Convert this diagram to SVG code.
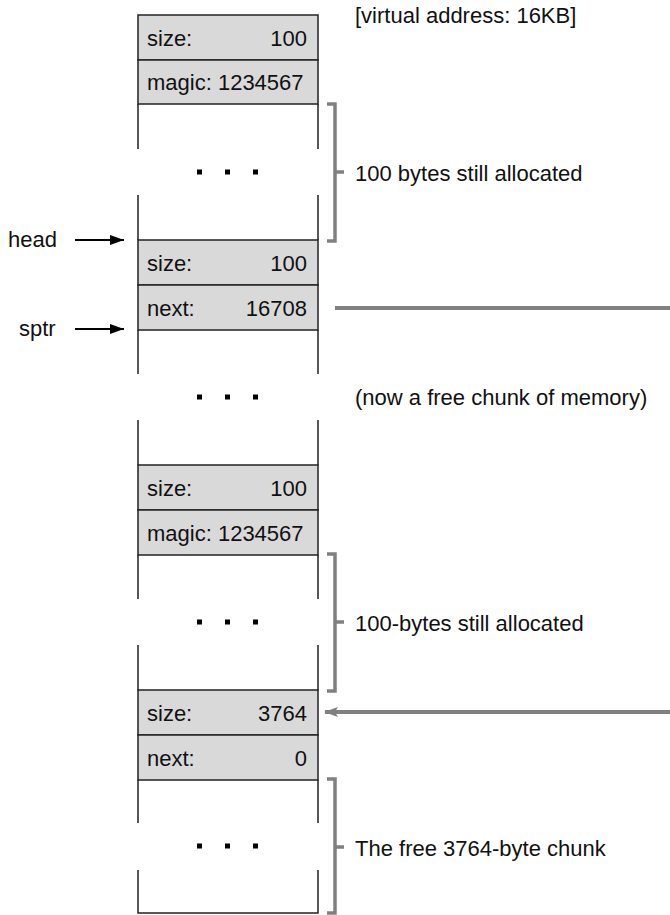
<svg xmlns="http://www.w3.org/2000/svg" width="670" height="915" viewBox="0 0 670 915">
<defs>
<style>
text{font-family:"Liberation Sans",Arial,Helvetica,sans-serif;font-size:22px;fill:#111}
.cell{fill:#d9d9d9;stroke:#222;stroke-width:1.5}
.side{stroke:#222;stroke-width:1.5;fill:none}
.br{stroke:#808080;stroke-width:3.5;fill:none}
.dot{fill:#000}
.r{text-anchor:end}
.ptr{stroke:#000;stroke-width:2;fill:none}
.gl{stroke:#808080;stroke-width:4;fill:none}
</style>
<marker id="ah" viewBox="0 0 14 10" refX="14" refY="5" markerWidth="14" markerHeight="10" markerUnits="userSpaceOnUse" orient="auto">
<path d="M0,0 L14,5 L0,10 z" fill="#000"/>
</marker>
<marker id="gah" viewBox="0 0 14 10" refX="13" refY="5" markerWidth="14" markerHeight="10" markerUnits="userSpaceOnUse" orient="auto">
<path d="M0,0 L14,5 L0,10 L3,5 z" fill="#808080"/>
</marker>
</defs>

<g id="header">
<text x="355" y="23">[virtual address: 16KB]</text>
</g>

<g id="alloc1">
<rect class="cell" x="138" y="15" width="180" height="45"/>
<text x="147" y="46">size:</text><text class="r" x="307" y="46">100</text>
<rect class="cell" x="138" y="60" width="180" height="44"/>
<text x="147" y="90">magic: 1234567</text>
<path class="side" d="M138,104 V149 M318,104 V149 M138,195 V240 M318,195 V240"/>
<rect class="dot" x="197" y="169.5" width="5" height="5"/>
<rect class="dot" x="225" y="169.5" width="5" height="5"/>
<rect class="dot" x="253" y="169.5" width="5" height="5"/>
</g>

<g id="free1">
<rect class="cell" x="138" y="240" width="180" height="45"/>
<text x="147" y="271">size:</text><text class="r" x="307" y="271">100</text>
<rect class="cell" x="138" y="285" width="180" height="45"/>
<text x="147" y="316">next:</text><text class="r" x="307" y="316">16708</text>
<path class="side" d="M138,330 V374 M318,330 V374 M138,420 V465 M318,420 V465"/>
<rect class="dot" x="197" y="394.5" width="5" height="5"/>
<rect class="dot" x="225" y="394.5" width="5" height="5"/>
<rect class="dot" x="253" y="394.5" width="5" height="5"/>
<text x="355" y="405">(now a free chunk of memory)</text>
</g>

<g id="alloc2">
<rect class="cell" x="138" y="465" width="180" height="45"/>
<text x="147" y="496">size:</text><text class="r" x="307" y="496">100</text>
<rect class="cell" x="138" y="510" width="180" height="45"/>
<text x="147" y="541">magic: 1234567</text>
<path class="side" d="M138,555 V599 M318,555 V599 M138,645 V690 M318,645 V690"/>
<rect class="dot" x="197" y="619.5" width="5" height="5"/>
<rect class="dot" x="225" y="619.5" width="5" height="5"/>
<rect class="dot" x="253" y="619.5" width="5" height="5"/>
</g>

<g id="free2">
<rect class="cell" x="138" y="690" width="180" height="45"/>
<text x="147" y="721">size:</text><text class="r" x="307" y="721">3764</text>
<rect class="cell" x="138" y="735" width="180" height="45"/>
<text x="147" y="766">next:</text><text class="r" x="307" y="766">0</text>
<path class="side" d="M138,780 V823 M318,780 V823 M138,870 V913 H318 V870"/>
<rect class="dot" x="197" y="843.5" width="5" height="5"/>
<rect class="dot" x="225" y="843.5" width="5" height="5"/>
<rect class="dot" x="253" y="843.5" width="5" height="5"/>
</g>

<g id="labels">
<path class="br" d="M327,104 H335 V241 H327 M335,172 H344"/>
<text x="355" y="181">100 bytes still allocated</text>
<path class="br" d="M327,554 H335 V691 H327 M335,622 H344"/>
<text x="355" y="631">100-bytes still allocated</text>
<path class="br" d="M327,779 H335 V913 H327 M335,847 H344"/>
<text x="355" y="856">The free 3764-byte chunk</text>
<text x="8" y="247">head</text>
<text x="19" y="336">sptr</text>
</g>

<g id="connectors">
<line class="ptr" x1="75" y1="240" x2="124" y2="240" marker-end="url(#ah)"/>
<line class="ptr" x1="75" y1="329" x2="124" y2="329" marker-end="url(#ah)"/>
<line class="gl" x1="335" y1="308" x2="670" y2="308"/>
<line class="gl" x1="670" y1="712" x2="325" y2="712" marker-end="url(#gah)"/>
</g>
</svg>
